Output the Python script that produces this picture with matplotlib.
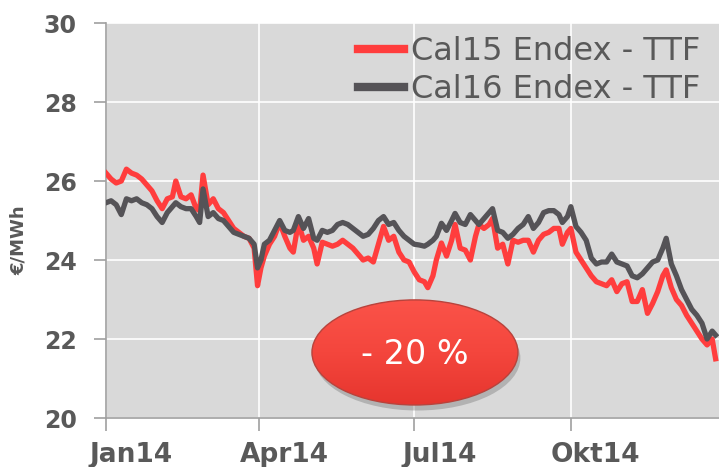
import numpy as np
import pandas as pd
import matplotlib
matplotlib.use("Agg")
import matplotlib.pyplot as plt
from matplotlib.patches import Ellipse
from matplotlib.transforms import ScaledTranslation
from matplotlib.colors import LinearSegmentedColormap

# ---- data (day offset from 1 Jan 2014, EUR/MWh) ----
days = [0, 3, 6, 9, 12, 15, 18, 21, 24, 27, 30, 33, 36, 39, 41, 44, 47, 50, 53, 55,
        57, 60, 63, 66, 69, 72, 75, 78, 81, 84, 87, 89, 91, 93, 96, 99, 102, 105, 108, 110,
        113, 116, 119, 122, 124, 127, 130, 133, 136, 139, 142, 145, 148, 151, 154, 157, 160, 163, 166, 169,
        172, 175, 178, 181, 184, 187, 189, 192, 194, 197, 200, 203, 205, 208, 211, 214, 217, 219, 222, 225,
        227, 230, 233, 236, 239, 242, 245, 248, 251, 254, 257, 260, 263, 266, 268, 271, 273, 276, 279, 282,
        285, 288, 291, 294, 297, 300, 303, 306, 309, 312, 315, 318, 321, 324, 327, 329, 332, 335, 338, 341,
        344, 347, 350, 353, 356, 358]
cal15 = [26.2, 26.05, 25.95, 26.0, 26.3, 26.2, 26.15, 26.05, 25.9, 25.75, 25.5, 25.3, 25.55, 25.6, 26.0, 25.6, 25.55, 25.65, 25.3, 25.25,
         26.15, 25.4, 25.55, 25.3, 25.2, 25.0, 24.8, 24.7, 24.6, 24.55, 24.3, 23.35, 23.8, 24.1, 24.4, 24.6, 24.95, 24.6, 24.3, 24.2,
         24.95, 24.5, 24.6, 24.3, 23.9, 24.45, 24.4, 24.35, 24.4, 24.5, 24.4, 24.3, 24.15, 24.0, 24.05, 23.95, 24.4, 24.85, 24.5, 24.6,
         24.2, 24.0, 23.95, 23.7, 23.5, 23.45, 23.3, 23.6, 24.0, 24.43, 24.1, 24.5, 24.9, 24.3, 24.25, 24.0, 24.6, 24.9, 24.8, 24.9,
         25.05, 24.3, 24.4, 23.9, 24.5, 24.45, 24.5, 24.5, 24.2, 24.5, 24.65, 24.7, 24.8, 24.8, 24.4, 24.7, 24.8, 24.2, 24.0, 23.8,
         23.6, 23.45, 23.4, 23.35, 23.5, 23.2, 23.4, 23.45, 22.95, 22.95, 23.25, 22.65, 22.9, 23.2, 23.6, 23.75, 23.3, 23.0, 22.85, 22.6,
         22.4, 22.2, 22.0, 21.85, 22.0, 21.5]
cal16 = [25.45, 25.5, 25.4, 25.15, 25.55, 25.5, 25.55, 25.45, 25.4, 25.3, 25.1, 24.95, 25.2, 25.35, 25.45, 25.35, 25.3, 25.3, 25.1, 24.95,
         25.8, 25.1, 25.2, 25.05, 25.0, 24.85, 24.7, 24.65, 24.6, 24.55, 24.4, 23.8, 24.0, 24.4, 24.5, 24.75, 25.0, 24.75, 24.7, 24.75,
         25.1, 24.8, 25.05, 24.55, 24.5, 24.75, 24.7, 24.75, 24.9, 24.95, 24.9, 24.8, 24.7, 24.6, 24.65, 24.8, 25.0, 25.1, 24.9, 24.95,
         24.75, 24.6, 24.5, 24.4, 24.38, 24.35, 24.4, 24.5, 24.6, 24.93, 24.75, 25.0, 25.18, 24.95, 24.9, 25.15, 25.0, 24.9, 25.05, 25.2,
         25.3, 24.75, 24.7, 24.55, 24.65, 24.8, 24.9, 25.1, 24.8, 24.95, 25.2, 25.25, 25.25, 25.15, 24.95, 25.1, 25.35, 24.85, 24.7, 24.5,
         24.05, 23.9, 23.95, 23.95, 24.15, 23.95, 23.9, 23.85, 23.6, 23.55, 23.65, 23.8, 23.95, 24.0, 24.3, 24.55, 23.9, 23.6, 23.25, 23.0,
         22.75, 22.6, 22.4, 22.0, 22.2, 22.1]
series_names = ["Cal15 Endex - TTF", "Cal16 Endex - TTF"]
tick_dates = ["2014-01-01", "2014-04-01", "2014-07-01", "2014-10-01"]
tick_labels = ["Jan14", "Apr14", "Jul14", "Okt14"]
y_ticks = [20, 22, 24, 26, 28, 30]
badge_text = "- 20 %"

dates = pd.Timestamp("2014-01-01") + pd.to_timedelta(days, unit="D")

fig = plt.figure(figsize=(7.19, 4.67), dpi=100)
ax = fig.add_axes([0.1474, 0.1049, 0.8526, 0.8458])
ax.set_facecolor("#d9d9d9")

red = "#ff3d3d"
grey = "#555357"
ax.plot(dates, cal15, color=red, lw=3.8, solid_joinstyle="round", label=series_names[0], zorder=3)
ax.plot(dates, cal16, color=grey, lw=3.8, solid_joinstyle="round", label=series_names[1], zorder=4)

ax.set_ylim(20, 30)
ax.set_yticks(y_ticks)
ax.set_xlim(pd.Timestamp("2014-01-01"), pd.Timestamp("2014-12-27"))
ax.set_xticks(pd.to_datetime(tick_dates))
ax.set_xticklabels(tick_labels)

ax.grid(True, color="white", lw=1.2)
ax.set_axisbelow(True)
for s in ["top", "right"]:
    ax.spines[s].set_visible(False)
for s in ["left", "bottom"]:
    ax.spines[s].set_color("#a0a0a0")
    ax.spines[s].set_linewidth(1.2)
ax.tick_params(axis="both", colors="#a0a0a0", length=9, width=1.2, labelcolor="#595959")
ax.tick_params(axis="y", labelsize=17, pad=12)
ax.tick_params(axis="x", labelsize=19, pad=8)
for lab in ax.get_yticklabels() + ax.get_xticklabels():
    lab.set_fontweight("bold")
offset = ScaledTranslation(25 / 100, 0, fig.dpi_scale_trans)
for lab in ax.get_xticklabels():
    lab.set_transform(lab.get_transform() + offset)

ax.set_ylabel("€/MWh", color="#595959", fontsize=13, fontweight="bold")
ax.yaxis.set_label_coords(-0.128, 0.45)

leg = ax.legend(loc="upper right", bbox_to_anchor=(0.99, 1.0), frameon=False, fontsize=23,
                handlelength=1.45, handletextpad=0.2, labelspacing=0.22, borderaxespad=0.0)
for t in leg.get_texts():
    t.set_color("#595959")
for h in leg.get_lines():
    h.set_linewidth(6)

# badge
cx, cy, w, h = 0.504, 0.166, 0.336, 0.266
ax.add_patch(Ellipse((cx + 0.004, cy - 0.014), w, h, transform=ax.transAxes,
                     facecolor="#6a6a6a", alpha=0.35, edgecolor="none", zorder=5))
ell = Ellipse((cx, cy), w, h, transform=ax.transAxes,
              facecolor="none", edgecolor="#b8433c", lw=1.0, zorder=7)
ax.add_patch(ell)
cmap = LinearSegmentedColormap.from_list("badge", ["#e6352e", "#f4463d", "#fb5349"])
grad = np.linspace(0, 1, 256).reshape(-1, 1)
im = ax.imshow(grad, cmap=cmap, origin="lower", aspect="auto",
               extent=(cx - w / 2, cx + w / 2, cy - h / 2, cy + h / 2),
               transform=ax.transAxes, zorder=6, interpolation="bilinear")
im.set_clip_path(ell)
ax.text(cx, cy - 0.005, badge_text, transform=ax.transAxes, ha="center", va="center",
        color="white", fontsize=24, zorder=9)

ax.set_xlim(pd.Timestamp("2014-01-01"), pd.Timestamp("2014-12-27"))
ax.set_ylim(20, 30)

fig.savefig("out.png", dpi=100)
